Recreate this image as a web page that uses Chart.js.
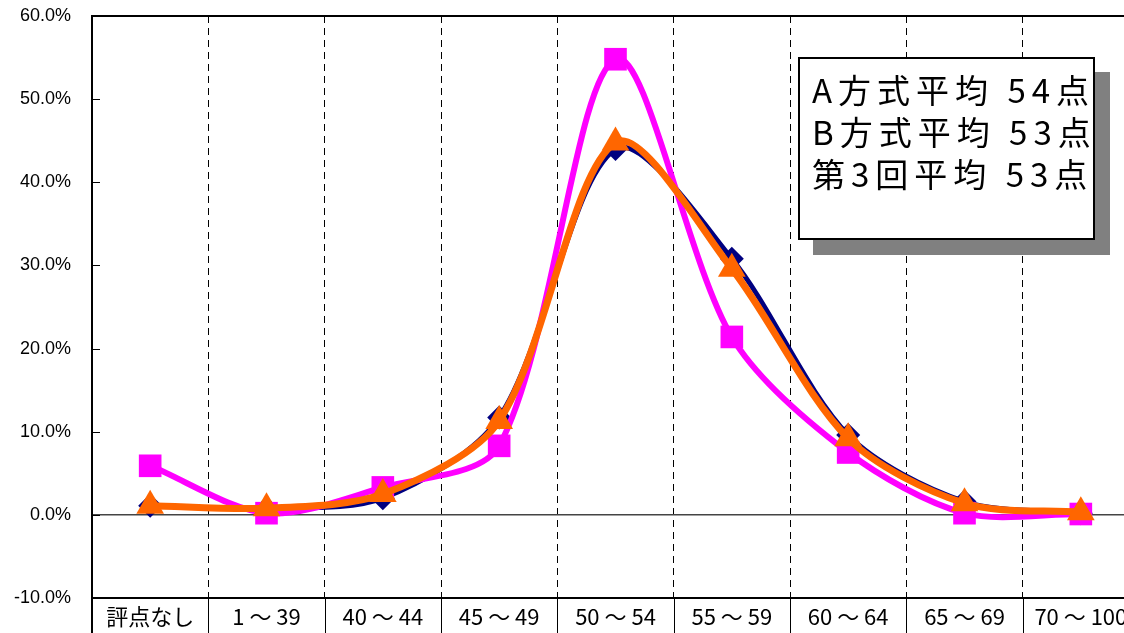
<!DOCTYPE html>
<html lang="ja">
<head>
<meta charset="utf-8">
<title>評点分布</title>
<script src="https://cdn.jsdelivr.net/npm/chart.js@4.4.0/dist/chart.umd.min.js"></script>
<style>
    body { margin: 0; overflow: hidden; background: #fff; }
    #wrap { position: relative; width: 1124px; height: 633px; overflow: hidden; }
    #myChart { position: absolute; left: 0; top: 0; }
    #note {
        position: absolute; left: 798px; top: 57px; width: 293px; height: 170px;
        background: #fff; border: 2px solid #000; box-shadow: 15px 15px 0 #808080;
        font-family: "Noto Sans CJK JP", sans-serif; font-size: 33px; line-height: 42px;
        padding-top: 9px; box-sizing: content-box;
    }
    #note div { padding-left: 12px; letter-spacing: 6px; white-space: pre; }
</style>
</head>
<body>
<div id="wrap">
    <!-- 右端の枠は画面外まで続くので少し広く描く -->
    <canvas id="myChart" width="1140" height="633"></canvas>
    <div id="note"></div>
</div>
<script>
// 区分
const categories = ['評点なし', '1 ～ 39', '40 ～ 44', '45 ～ 49', '50 ～ 54', '55 ～ 59', '60 ～ 64', '65 ～ 69', '70 ～ 100'];

// 各方式の割合 (%)
const seriesA = [1.1, 0.8, 2.0, 11.7, 44.0, 30.8, 9.6, 1.6, 0.2];
const seriesB = [5.9, 0.2, 3.3, 8.3, 54.8, 21.4, 7.5, 0.2, 0.1];
const series3 = [1.1, 0.8, 2.5, 11.3, 44.8, 29.6, 9.2, 1.4, 0.3];

// 縦軸の目盛
const yTicks = [-10, 0, 10, 20, 30, 40, 50, 60];

// 平均点の注記
const noteLines = ['A方式平均 54点', 'B方式平均 53点', '第3回平均 53点'];

document.getElementById('note').innerHTML = noteLines.map(t => `<div>${t}</div>`).join('');

// 枠線・縦軸の内向き目盛・項目区切り線
const framePlugin = {
    id: 'frame',
    afterDraw(chart) {
        const ctx = chart.ctx;
        const area = chart.chartArea;
        const x = chart.scales.x;
        const y = chart.scales.y;
        ctx.save();
        ctx.strokeStyle = '#000';

        // y 軸の目盛 (内側)
        ctx.lineWidth = 1;
        yTicks.forEach(v => {
            const py = Math.round(y.getPixelForValue(v)) + 0.5;
            ctx.beginPath();
            ctx.moveTo(area.left, py);
            ctx.lineTo(area.left + 8, py);
            ctx.stroke();
        });

        // 項目名の区切り
        const half = (x.getPixelForValue(1) - x.getPixelForValue(0)) / 2;
        for (let i = 0; i <= categories.length; i++) {
            const px = Math.round(x.getPixelForValue(i) - half) + 0.5;
            ctx.beginPath();
            ctx.moveTo(px, area.bottom);
            ctx.lineTo(px, chart.height);
            ctx.stroke();
        }

        // 外枠
        ctx.lineWidth = 2;
        ctx.beginPath();
        ctx.moveTo(area.right + 5, area.top);
        ctx.lineTo(area.left, area.top);
        ctx.lineTo(area.left, chart.height);
        ctx.moveTo(area.left, area.bottom);
        ctx.lineTo(area.right + 5, area.bottom);
        ctx.stroke();
        ctx.restore();
    }
};

const ctx = document.getElementById('myChart').getContext('2d');

new Chart(ctx, {
    type: 'line',
    data: {
        labels: categories,
        datasets: [
            {
                label: 'A方式',
                data: seriesA,
                borderColor: '#000080',
                backgroundColor: '#000080',
                borderWidth: 5,
                pointStyle: 'rectRot',
                pointRadius: 12,
                pointBorderWidth: 0,
                tension: 0.3,
                order: 3
            },
            {
                label: 'B方式',
                data: seriesB,
                borderColor: '#FF00FF',
                backgroundColor: '#FF00FF',
                borderWidth: 6,
                pointStyle: 'rect',
                pointRadius: 16,
                pointBorderWidth: 0,
                tension: 0.3,
                order: 2
            },
            {
                label: '第3回',
                data: series3,
                borderColor: '#FF6600',
                backgroundColor: '#FF6600',
                borderWidth: 7,
                pointStyle: 'triangle',
                pointRadius: 16,
                pointBorderWidth: 0,
                tension: 0.3,
                order: 1
            }
        ]
    },
    options: {
        responsive: false,
        animation: false,
        devicePixelRatio: 1,
        layout: { autoPadding: false, padding: { top: 16, right: 1, left: 0, bottom: 0 } },
        plugins: {
            legend: { display: false },
            tooltip: { enabled: false }
        },
        scales: {
            x: {
                offset: true,
                afterFit: scale => { scale.height = 35; scale.paddingLeft = 0; scale.paddingRight = 0; },
                grid: {
                    offset: true,
                    color: '#000',
                    lineWidth: 1,
                    drawTicks: false
                },
                border: { display: false, dash: [7, 5] },
                ticks: {
                    color: '#000',
                    padding: 5,
                    maxRotation: 0,
                    autoSkip: false,
                    font: { family: '"Noto Sans CJK JP", sans-serif', size: 22 }
                }
            },
            y: {
                min: -10,
                max: 60,
                afterFit: scale => { scale.width = 92; scale.paddingTop = 0; scale.paddingBottom = 0; },
                afterBuildTicks: scale => { scale.ticks = yTicks.map(v => ({ value: v })); },
                grid: {
                    color: c => (c.tick && c.tick.value === 0 ? '#444' : 'rgba(0,0,0,0)'),
                    lineWidth: 1.5,
                    drawTicks: false
                },
                border: { display: false },
                ticks: {
                    color: '#000',
                    padding: 21,
                    callback: v => v.toFixed(1) + '%',
                    font: { family: '"Liberation Sans", Arial, sans-serif', size: 18 }
                }
            }
        }
    },
    plugins: [framePlugin]
});
</script>
</body>
</html>
